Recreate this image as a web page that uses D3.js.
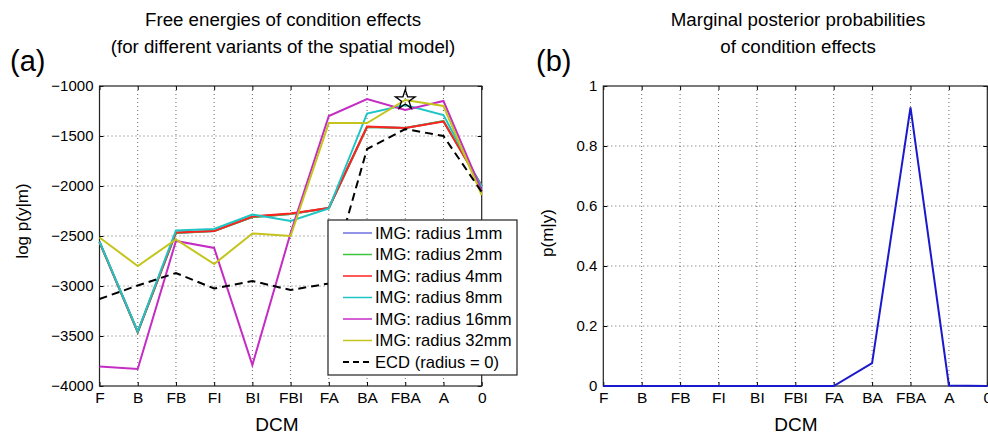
<!DOCTYPE html>
<html>
<head>
<meta charset="utf-8">
<script src="https://cdn.jsdelivr.net/npm/d3@7"></script>
<style>
  body { margin: 0; background: #fff; }
  svg { display: block; }
</style>
</head>
<body>
<svg width="988" height="436"></svg>
<script>
// models on the x axis
const models = ["F", "B", "FB", "FI", "BI", "FBI", "FA", "BA", "FBA", "A", "0"];

const yTicksA = [-4000, -3500, -3000, -2500, -2000, -1500, -1000];
const yTicksB = [0, 0.2, 0.4, 0.6, 0.8, 1];

const legendNames = [
  "IMG: radius 1mm",
  "IMG: radius 2mm",
  "IMG: radius 4mm",
  "IMG: radius 8mm",
  "IMG: radius 16mm",
  "IMG: radius 32mm",
  "ECD (radius = 0)",
];
const lineColors = ["#6f6fe0", "#3cc43c", "#ff2222", "#1fc4c4", "#c42cc4", "#c4c41c", "#000000"];

// free energies (panel a)
const radius1 = [-2560, -3460, -2470, -2450, -2310, -2280, -2220, -1410, -1420, -1350, -2000];
const radius2 = [-2560, -3460, -2470, -2450, -2310, -2280, -2220, -1410, -1420, -1350, -2000];
const radius4 = [-2560, -3460, -2465, -2450, -2305, -2275, -2220, -1405, -1420, -1355, -2000];
const radius8 = [-2555, -3455, -2445, -2430, -2285, -2350, -2225, -1275, -1190, -1290, -2010];
const radius16 = [-3805, -3830, -2550, -2620, -3790, -2470, -1300, -1130, -1240, -1150, -2050];
const radius32 = [-2515, -2800, -2535, -2780, -2475, -2500, -1370, -1370, -1140, -1200, -2090];
const ecd = [-3130, -2995, -2870, -3025, -2950, -3040, -2975, -1630, -1430, -1500, -2060];
const allSeries = [radius1, radius2, radius4, radius8, radius16, radius32, ecd];

const bestModel = "FBA";
const bestValue = -1140;

// marginal posterior probabilities (panel b)
const probs = [0, 0, 0, 0, 0, 0, 0, 0.076, 0.929, 0.002, 0];

const svg = d3.select("svg").attr("font-family", "'Liberation Sans', Arial, sans-serif");

const plotTop = 86, plotBottom = 386;
const panelA = { left: 99.5, right: 481.7 };
const panelB = { left: 603.3, right: 987.3 };

const xA = d3.scalePoint().domain(models).range([panelA.left, panelA.right]);
const yA = d3.scaleLinear().domain([-4000, -1000]).range([plotBottom, plotTop]);
const xB = d3.scalePoint().domain(models).range([panelB.left, panelB.right]);
const yB = d3.scaleLinear().domain([0, 1]).range([plotBottom, plotTop]);

function drawFrame(x, y, yTicks, yFormat) {
  const g = svg.append("g");
  const [x0, x1] = x.range();
  // dotted grid
  g.selectAll(".gx")
    .data(models.slice(1, -1))
    .join("line")
    .attr("x1", (d) => x(d)).attr("x2", (d) => x(d))
    .attr("y1", plotTop).attr("y2", plotBottom)
    .attr("stroke", "#444").attr("stroke-width", 0.8)
    .attr("stroke-dasharray", "1,3");
  g.selectAll(".gy")
    .data(yTicks.slice(1, -1))
    .join("line")
    .attr("x1", x0).attr("x2", x1)
    .attr("y1", (d) => y(d)).attr("y2", (d) => y(d))
    .attr("stroke", "#444").attr("stroke-width", 0.8)
    .attr("stroke-dasharray", "1,3");

  // axes with inward ticks
  g.append("g")
    .attr("transform", `translate(0,${plotBottom})`)
    .call(d3.axisBottom(x).tickSize(-4).tickPadding(6))
    .call((a) => a.select(".domain").remove())
    .selectAll("text")
    .attr("font-size", 15.5).attr("fill", "#000").attr("font-family", "'Liberation Sans', Arial, sans-serif");
  g.append("g")
    .attr("transform", `translate(${x0},0)`)
    .call(d3.axisLeft(y).tickValues(yTicks).tickFormat(yFormat).tickSize(-4).tickPadding(6))
    .call((a) => a.select(".domain").remove())
    .selectAll("text")
    .attr("font-size", 15).attr("fill", "#000").attr("font-family", "'Liberation Sans', Arial, sans-serif");
  g.append("g")
    .attr("transform", `translate(0,${plotTop})`)
    .call(d3.axisTop(x).tickSize(-4).tickFormat(""))
    .call((a) => a.select(".domain").remove());
  g.append("g")
    .attr("transform", `translate(${x1},0)`)
    .call(d3.axisRight(y).tickValues(yTicks).tickSize(-4).tickFormat(""))
    .call((a) => a.select(".domain").remove());

  g.append("rect")
    .attr("x", x0).attr("y", plotTop)
    .attr("width", x1 - x0).attr("height", plotBottom - plotTop)
    .attr("fill", "none").attr("stroke", "#222").attr("stroke-width", 1.2);
  return g;
}

// ---------- panel (a) ----------
drawFrame(xA, yA, yTicksA, d3.format("d"));

const lineA = d3.line().x((d, i) => xA(models[i])).y((d) => yA(d));
svg.append("g")
  .attr("fill", "none")
  .selectAll("path")
  .data(allSeries)
  .join("path")
  .attr("d", lineA)
  .attr("stroke", (d, i) => lineColors[i])
  .attr("stroke-width", 2)
  .attr("stroke-dasharray", (d, i) => (i == allSeries.length - 1 ? "8,5" : null));

// star on the best model
svg.append("path")
  .attr("d", d3.symbol().type(d3.symbolStar).size(120)())
  .attr("transform", `translate(${xA(bestModel)},${yA(bestValue)})`)
  .attr("fill", "none")
  .attr("stroke", "#000")
  .attr("stroke-width", 1.3);

svg.append("text")
  .attr("x", 283).attr("y", 26)
  .attr("text-anchor", "middle").attr("font-size", 18.7)
  .text("Free energies of condition effects");
svg.append("text")
  .attr("x", 283).attr("y", 53)
  .attr("text-anchor", "middle").attr("font-size", 18.7)
  .text("(for different variants of the spatial model)");
svg.append("text")
  .attr("x", 10).attr("y", 71)
  .attr("font-size", 29)
  .text("(a)");
svg.append("text")
  .attr("x", 277).attr("y", 431)
  .attr("text-anchor", "middle").attr("font-size", 19)
  .text("DCM");
svg.append("text")
  .attr("transform", "translate(28,221) rotate(-90)")
  .attr("text-anchor", "middle").attr("font-size", 17)
  .text("log p(y|m)");

// legend
const legend = svg.append("g").attr("transform", "translate(328,220)");
legend.append("rect")
  .attr("width", 189).attr("height", 155)
  .attr("fill", "#fff").attr("stroke", "#222").attr("stroke-width", 1.2);
const rows = legend.selectAll(".row")
  .data(legendNames)
  .join("g")
  .attr("transform", (d, i) => `translate(0,${13 + i * 21.5})`);
rows.append("line")
  .attr("x1", 15).attr("x2", 44)
  .attr("stroke", (d, i) => lineColors[i])
  .attr("stroke-width", (d, i) => (i == legendNames.length - 1 ? 1.8 : 1.5))
  .attr("stroke-dasharray", (d, i) => (i == legendNames.length - 1 ? "6,4" : null));
rows.append("text")
  .attr("x", 47).attr("y", 5.8)
  .attr("font-size", 16.6)
  .text((d) => d);

// ---------- panel (b) ----------
drawFrame(xB, yB, yTicksB, (d) => (d == 0 || d == 1 ? d3.format("d")(d) : d3.format(".1f")(d)));

svg.append("path")
  .datum(probs)
  .attr("fill", "none")
  .attr("stroke", "#1a1acc")
  .attr("stroke-width", 2)
  .attr("d", d3.line().x((d, i) => xB(models[i])).y((d) => yB(d)));

svg.append("text")
  .attr("x", 798).attr("y", 26)
  .attr("text-anchor", "middle").attr("font-size", 18.7)
  .text("Marginal posterior probabilities");
svg.append("text")
  .attr("x", 798).attr("y", 53)
  .attr("text-anchor", "middle").attr("font-size", 18.7)
  .text("of condition effects");
svg.append("text")
  .attr("x", 536).attr("y", 71)
  .attr("font-size", 29)
  .text("(b)");
svg.append("text")
  .attr("x", 796).attr("y", 431)
  .attr("text-anchor", "middle").attr("font-size", 19)
  .text("DCM");
svg.append("text")
  .attr("transform", "translate(553,233) rotate(-90)")
  .attr("text-anchor", "middle").attr("font-size", 17)
  .text("p(m|y)");
</script>
</body>
</html>
